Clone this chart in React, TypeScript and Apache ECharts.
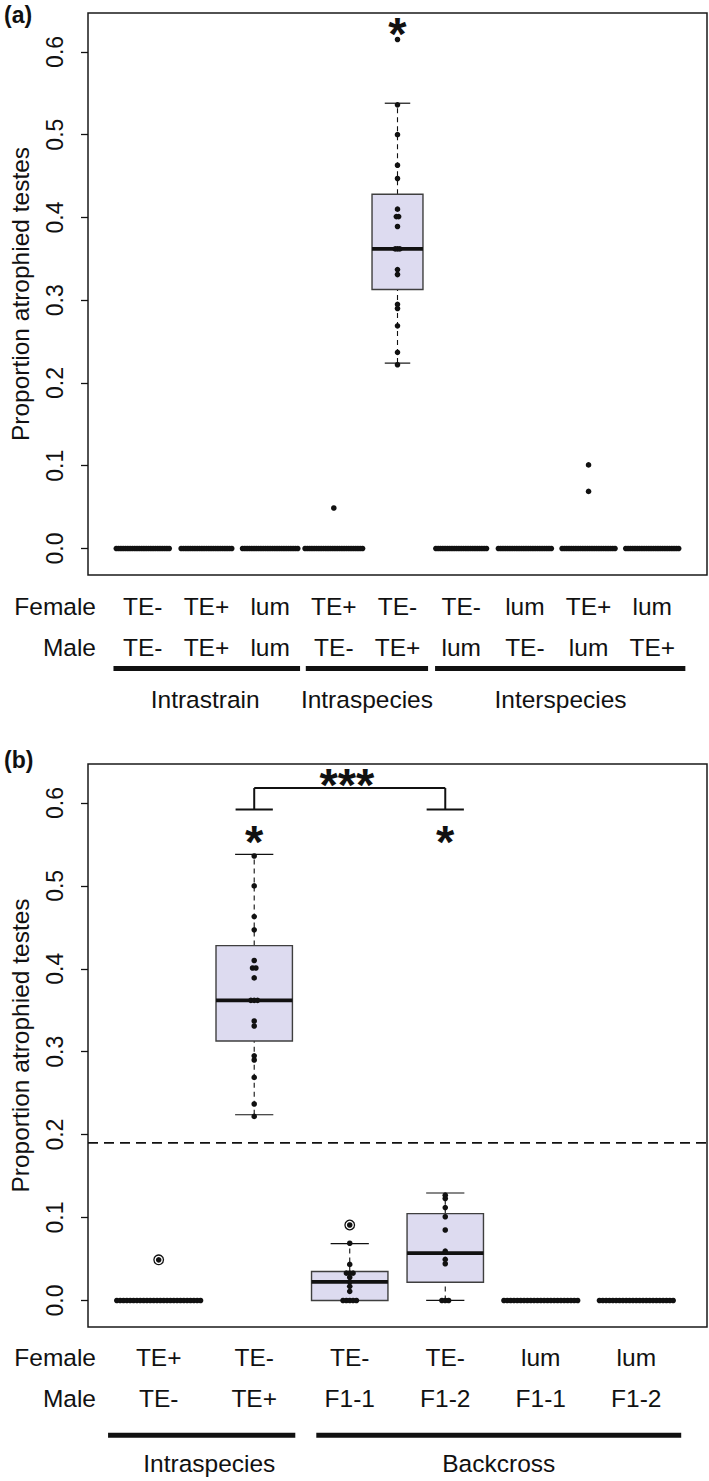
import React, { useEffect, useRef } from 'react';
import * as echarts from 'echarts';

const FONT = '"Liberation Sans", Arial, Helvetica, sans-serif';
const Y_MIN = -0.032;
const Y_MAX = 0.647;
const yTicks = [0, 0.1, 0.2, 0.3, 0.4, 0.5, 0.6];
const yTitle = 'Proportion atrophied testes';

// ---------- Panel (a) ----------
const femaleA = ['TE-', 'TE+', 'lum', 'TE+', 'TE-', 'TE-', 'lum', 'TE+', 'lum'];
const maleA = ['TE-', 'TE+', 'lum', 'TE-', 'TE+', 'lum', 'TE-', 'lum', 'TE+'];
const groupNamesA = ['Intrastrain', 'Intraspecies', 'Interspecies'];
const groupSpansA = [[0.54, 3.47], [3.56, 5.48], [5.59, 9.52]];
const groupLabelXA = [1.98, 4.52, 7.56];
const zeroCountsA = [24, 23, 25, 26, 0, 23, 24, 24, 24];
const nonZeroA: number[][] = [
  [], [], [], [0.049],
  [0.615, 0.536, 0.5, 0.463, 0.447, 0.41, 0.401, 0.401, 0.389, 0.362, 0.362, 0.362, 0.337, 0.331, 0.295, 0.29, 0.269, 0.237, 0.222],
  [], [], [0.101, 0.069], [],
];
const boxLowA = [0, 0, 0, 0, 0.224, 0, 0, 0, 0];
const boxQ1A = [0, 0, 0, 0, 0.313, 0, 0, 0, 0];
const boxMedA = [0, 0, 0, 0, 0.362, 0, 0, 0, 0];
const boxQ3A = [0, 0, 0, 0, 0.428, 0, 0, 0, 0];
const boxHighA = [0, 0, 0, 0, 0.538, 0, 0, 0, 0];
const starXA = [5];
const starYA = [0.634];
const starTextA = ['*'];

// ---------- Panel (b) ----------
const femaleB = ['TE+', 'TE-', 'TE-', 'TE-', 'lum', 'lum'];
const maleB = ['TE-', 'TE+', 'F1-1', 'F1-2', 'F1-1', 'F1-2'];
const groupNamesB = ['Intraspecies', 'Backcross'];
const groupSpansB = [[0.47, 2.43], [2.65, 6.47]];
const groupLabelXB = [1.53, 4.56];
const zeroCountsB = [26, 0, 5, 3, 23, 23];
const nonZeroB: number[][] = [
  [0.049],
  [0.536, 0.5, 0.463, 0.447, 0.41, 0.401, 0.401, 0.389, 0.362, 0.362, 0.362, 0.337, 0.331, 0.295, 0.29, 0.269, 0.237, 0.222],
  [0.091, 0.069, 0.0435, 0.033, 0.033, 0.033, 0.028, 0.0225, 0.017, 0.011],
  [0.127, 0.123, 0.112, 0.101, 0.085, 0.0595, 0.0495, 0.0443],
  [], [],
];
const boxLowB = [0, 0.224, 0, 0, 0, 0];
const boxQ1B = [0, 0.313, 0, 0.022, 0, 0];
const boxMedB = [0, 0.362, 0.0225, 0.057, 0, 0];
const boxQ3B = [0, 0.428, 0.035, 0.1047, 0, 0];
const boxHighB = [0, 0.538, 0.0685, 0.1296, 0, 0];
const outlierXB = [1, 3];
const outlierYB = [0.049, 0.091];
const starXB = [2, 4, 2.97];
const starYB = [0.565, 0.565, 0.634];
const starTextB = ['*', '*', '***'];
const bracketB = [2, 4, 0.592, 0.618]; // x1, x2, yLow, yHigh
const thresholdB = [0.19];

// ---------- helpers ----------
function buildPoints(zeroCounts: number[], nonZero: number[][]) {
  const out: number[][] = [];
  zeroCounts.forEach((zc, gi) => {
    const vals: number[] = [];
    for (let k = 0; k < zc; k++) vals.push(0);
    nonZero[gi].forEach((v) => vals.push(v));
    const total = new Map<number, number>();
    vals.forEach((v) => total.set(v, (total.get(v) || 0) + 1));
    const seen = new Map<number, number>();
    vals.forEach((v) => {
      const k = seen.get(v) || 0;
      seen.set(v, k + 1);
      out.push([gi + 1, v, k - ((total.get(v) as number) - 1) / 2]);
    });
  });
  return out;
}

const LABEL_FS = 24.5;

function txt(text: string, x: number, y: number, size: number, align = 'center', weight = 'normal') {
  return {
    type: 'text',
    x,
    y,
    style: {
      text,
      fill: '#111',
      fontSize: size,
      fontFamily: FONT,
      fontWeight: weight,
      align,
      verticalAlign: 'middle',
      textAlign: align,
      textVerticalAlign: 'middle',
    },
  };
}

const BOX_FILL = '#DDDBF0';
const BOX_STROKE = '#3f3f3f';

function boxSeries(idx: number, lo: number[], q1: number[], md: number[], q3: number[], hi: number[]) {
  const data = lo.map((_, i) => [i + 1, lo[i], q1[i], md[i], q3[i], hi[i]]);
  return {
    type: 'custom',
    xAxisIndex: idx,
    yAxisIndex: idx,
    data,
    encode: { x: 0, y: [1, 2, 3, 4, 5] },
    z: 2,
    renderItem: (params: any, api: any) => {
      const x = api.value(0);
      const vlo = api.value(1), vq1 = api.value(2), vmd = api.value(3), vq3 = api.value(4), vhi = api.value(5);
      const c = (xx: number, yy: number) => api.coord([xx, yy]);
      const bw = 0.4, cw = 0.2;
      const children: any[] = [];
      const dashed = { stroke: '#111', lineWidth: 1.1, lineDash: [5, 4] };
      const solid = { stroke: '#111', lineWidth: 1.2 };
      if (vhi > vq3) {
        const a = c(x, vq3), b = c(x, vhi);
        children.push({ type: 'line', shape: { x1: a[0], y1: a[1], x2: b[0], y2: b[1] }, style: dashed });
      }
      if (vlo < vq1) {
        const a = c(x, vlo), b = c(x, vq1);
        children.push({ type: 'line', shape: { x1: a[0], y1: a[1], x2: b[0], y2: b[1] }, style: dashed });
      }
      [vhi, vlo].forEach((v) => {
        const a = c(x - cw, v), b = c(x + cw, v);
        children.push({ type: 'line', shape: { x1: a[0], y1: a[1], x2: b[0], y2: b[1] }, style: solid });
      });
      const tl = c(x - bw, vq3), br = c(x + bw, vq1);
      children.push({
        type: 'rect',
        shape: { x: tl[0], y: tl[1], width: br[0] - tl[0], height: br[1] - tl[1] },
        style: { fill: BOX_FILL, stroke: BOX_STROKE, lineWidth: 1.4 },
      });
      const m1 = c(x - bw, vmd), m2 = c(x + bw, vmd);
      children.push({ type: 'line', shape: { x1: m1[0], y1: m1[1], x2: m2[0], y2: m2[1] }, style: { stroke: '#111', lineWidth: 3.8 } });
      return { type: 'group', children };
    },
  };
}

function pointSeries(idx: number, zeroCounts: number[], nonZero: number[][], spacing: number) {
  return {
    type: 'custom',
    xAxisIndex: idx,
    yAxisIndex: idx,
    data: buildPoints(zeroCounts, nonZero),
    encode: { x: 0, y: 1 },
    z: 3,
    renderItem: (params: any, api: any) => {
      const p = api.coord([api.value(0), api.value(1)]);
      return { type: 'circle', shape: { cx: p[0] + api.value(2) * spacing, cy: p[1], r: 2.8 }, style: { fill: '#111' } };
    },
  };
}

function labelSeries(idx: number, female: string[], male: string[], offF: number, offM: number, xMin: number) {
  return {
    type: 'custom',
    xAxisIndex: idx,
    yAxisIndex: idx,
    clip: false,
    data: female.map((_, i) => [i + 1, Y_MIN]),
    encode: { x: 0, y: 1 },
    z: 4,
    renderItem: (params: any, api: any) => {
      const i = params.dataIndex;
      const p = api.coord([i + 1, Y_MIN]);
      const children: any[] = [txt(female[i], p[0], p[1] + offF, LABEL_FS), txt(male[i], p[0], p[1] + offM, LABEL_FS)];
      if (i === 0) {
        const o = api.coord([xMin, Y_MIN]);
        children.push(txt('Female', o[0] + 8, p[1] + offF, LABEL_FS, 'right'));
        children.push(txt('Male', o[0] + 8, p[1] + offM, LABEL_FS, 'right'));
      }
      return { type: 'group', children };
    },
  };
}

function groupSeries(idx: number, names: string[], spans: number[][], labelX: number[], offLine: number, offName: number) {
  return {
    type: 'custom',
    xAxisIndex: idx,
    yAxisIndex: idx,
    clip: false,
    data: spans.map((s) => [s[0], Y_MIN]),
    encode: { x: 0, y: 1 },
    z: 4,
    renderItem: (params: any, api: any) => {
      const i = params.dataIndex;
      const a = api.coord([spans[i][0], Y_MIN]);
      const b = api.coord([spans[i][1], Y_MIN]);
      const t = api.coord([labelX[i], Y_MIN]);
      return {
        type: 'group',
        children: [
          { type: 'line', shape: { x1: a[0], y1: a[1] + offLine, x2: b[0], y2: b[1] + offLine }, style: { stroke: '#111', lineWidth: 5 } },
          txt(names[i], t[0], t[1] + offName, LABEL_FS),
        ],
      };
    },
  };
}

function starSeries(idx: number, xs: number[], ys: number[], texts: string[]) {
  const FS = 47;
  return {
    type: 'custom',
    xAxisIndex: idx,
    yAxisIndex: idx,
    clip: false,
    data: xs.map((x, i) => [x, ys[i]]),
    encode: { x: 0, y: 1 },
    z: 5,
    renderItem: (params: any, api: any) => {
      const p = api.coord([api.value(0), api.value(1)]);
      return txt(texts[params.dataIndex], p[0], p[1] + 0.2 * FS, FS, 'center', 'bold');
    },
  };
}

function yAxisCfg(gridIndex: number) {
  return {
    gridIndex,
    type: 'value',
    min: Y_MIN,
    max: Y_MAX,
    name: yTitle,
    nameLocation: 'middle',
    nameRotate: 90,
    nameGap: 55,
    nameTextStyle: { fontSize: 24.5, fontFamily: FONT, color: '#111' },
    axisLine: { show: false },
    axisTick: { show: true, inside: false, length: 7, lineStyle: { color: '#111', width: 1.3 }, customValues: yTicks },
    axisLabel: {
      show: true,
      rotate: 90,
      margin: 22,
      fontSize: 23,
      fontFamily: FONT,
      color: '#111',
      customValues: yTicks,
      formatter: (v: number) => v.toFixed(1),
    },
    splitLine: { show: false },
  };
}

export default function App() {
  const ref = useRef<HTMLDivElement>(null);
  useEffect(() => {
    if (!ref.current) return;
    const chart = echarts.init(ref.current, undefined, { renderer: 'svg' });
    const xMinA = 0.14, xMaxA = 9.86, xMinB = 0.26, xMaxB = 6.74;
    const option: any = {
      animation: false,
      textStyle: { fontFamily: FONT },
      grid: [
        { left: 80, top: 13, width: 627, height: 562, show: true, borderColor: '#1a1a1a', borderWidth: 1.5, backgroundColor: 'transparent' },
        { left: 80, top: 764, width: 627, height: 563, show: true, borderColor: '#1a1a1a', borderWidth: 1.5, backgroundColor: 'transparent' },
      ],
      xAxis: [
        { gridIndex: 0, type: 'value', min: xMinA, max: xMaxA, show: false },
        { gridIndex: 1, type: 'value', min: xMinB, max: xMaxB, show: false },
      ],
      yAxis: [yAxisCfg(0), yAxisCfg(1)],
      graphic: [
        { type: 'text', left: 4, top: 3, style: { text: '(a)', fontSize: 23, fontWeight: 'bold', fontFamily: FONT, fill: '#111' } },
        { type: 'text', left: 4, top: 748, style: { text: '(b)', fontSize: 23, fontWeight: 'bold', fontFamily: FONT, fill: '#111' } },
      ],
      series: [
        boxSeries(0, boxLowA, boxQ1A, boxMedA, boxQ3A, boxHighA),
        pointSeries(0, zeroCountsA, nonZeroA, 2.3),
        starSeries(0, starXA, starYA, starTextA),
        labelSeries(0, femaleA, maleA, 31, 72, xMinA),
        groupSeries(0, groupNamesA, groupSpansA, groupLabelXA, 93.5, 124),

        {
          type: 'custom',
          xAxisIndex: 1,
          yAxisIndex: 1,
          data: thresholdB.map((v) => [xMinB, v]),
          encode: { x: 0, y: 1 },
          z: 1,
          renderItem: (params: any, api: any) => {
            const a = api.coord([xMinB, api.value(1)]);
            const b = api.coord([xMaxB, api.value(1)]);
            return { type: 'line', shape: { x1: a[0], y1: a[1], x2: b[0], y2: b[1] }, style: { stroke: '#111', lineWidth: 1.7, lineDash: [10, 6] } };
          },
        },
        boxSeries(1, boxLowB, boxQ1B, boxMedB, boxQ3B, boxHighB),
        pointSeries(1, zeroCountsB, nonZeroB, 3.35),
        {
          type: 'custom',
          xAxisIndex: 1,
          yAxisIndex: 1,
          data: outlierXB.map((x, i) => [x, outlierYB[i]]),
          encode: { x: 0, y: 1 },
          z: 4,
          renderItem: (params: any, api: any) => {
            const p = api.coord([api.value(0), api.value(1)]);
            return { type: 'circle', shape: { cx: p[0], cy: p[1], r: 4.8 }, style: { fill: 'none', stroke: '#111', lineWidth: 1.3 } };
          },
        },
        {
          type: 'custom',
          xAxisIndex: 1,
          yAxisIndex: 1,
          clip: false,
          data: [bracketB],
          encode: { x: 0, y: 2 },
          z: 5,
          renderItem: (params: any, api: any) => {
            const x1 = api.value(0), x2 = api.value(1), yl = api.value(2), yh = api.value(3);
            const cw = 0.195;
            const seg = (ax: number, ay: number, bx: number, by: number) => {
              const a = api.coord([ax, ay]);
              const b = api.coord([bx, by]);
              return { type: 'line', shape: { x1: a[0], y1: a[1], x2: b[0], y2: b[1] }, style: { stroke: '#111', lineWidth: 2 } };
            };
            return {
              type: 'group',
              children: [
                seg(x1 - cw, yl, x1 + cw, yl),
                seg(x2 - cw, yl, x2 + cw, yl),
                seg(x1, yl, x1, yh),
                seg(x2, yl, x2, yh),
                seg(x1, yh, x2, yh),
              ],
            };
          },
        },
        starSeries(1, starXB, starYB, starTextB),
        labelSeries(1, femaleB, maleB, 30.5, 71, xMinB),
        groupSeries(1, groupNamesB, groupSpansB, groupLabelXB, 108.3, 136),
      ],
    };
    chart.setOption(option);
    return () => chart.dispose();
  }, []);
  return <div ref={ref} style={{ position: 'absolute', left: 0, top: 0, width: 709, height: 1481, background: '#fff' }} />;
}
